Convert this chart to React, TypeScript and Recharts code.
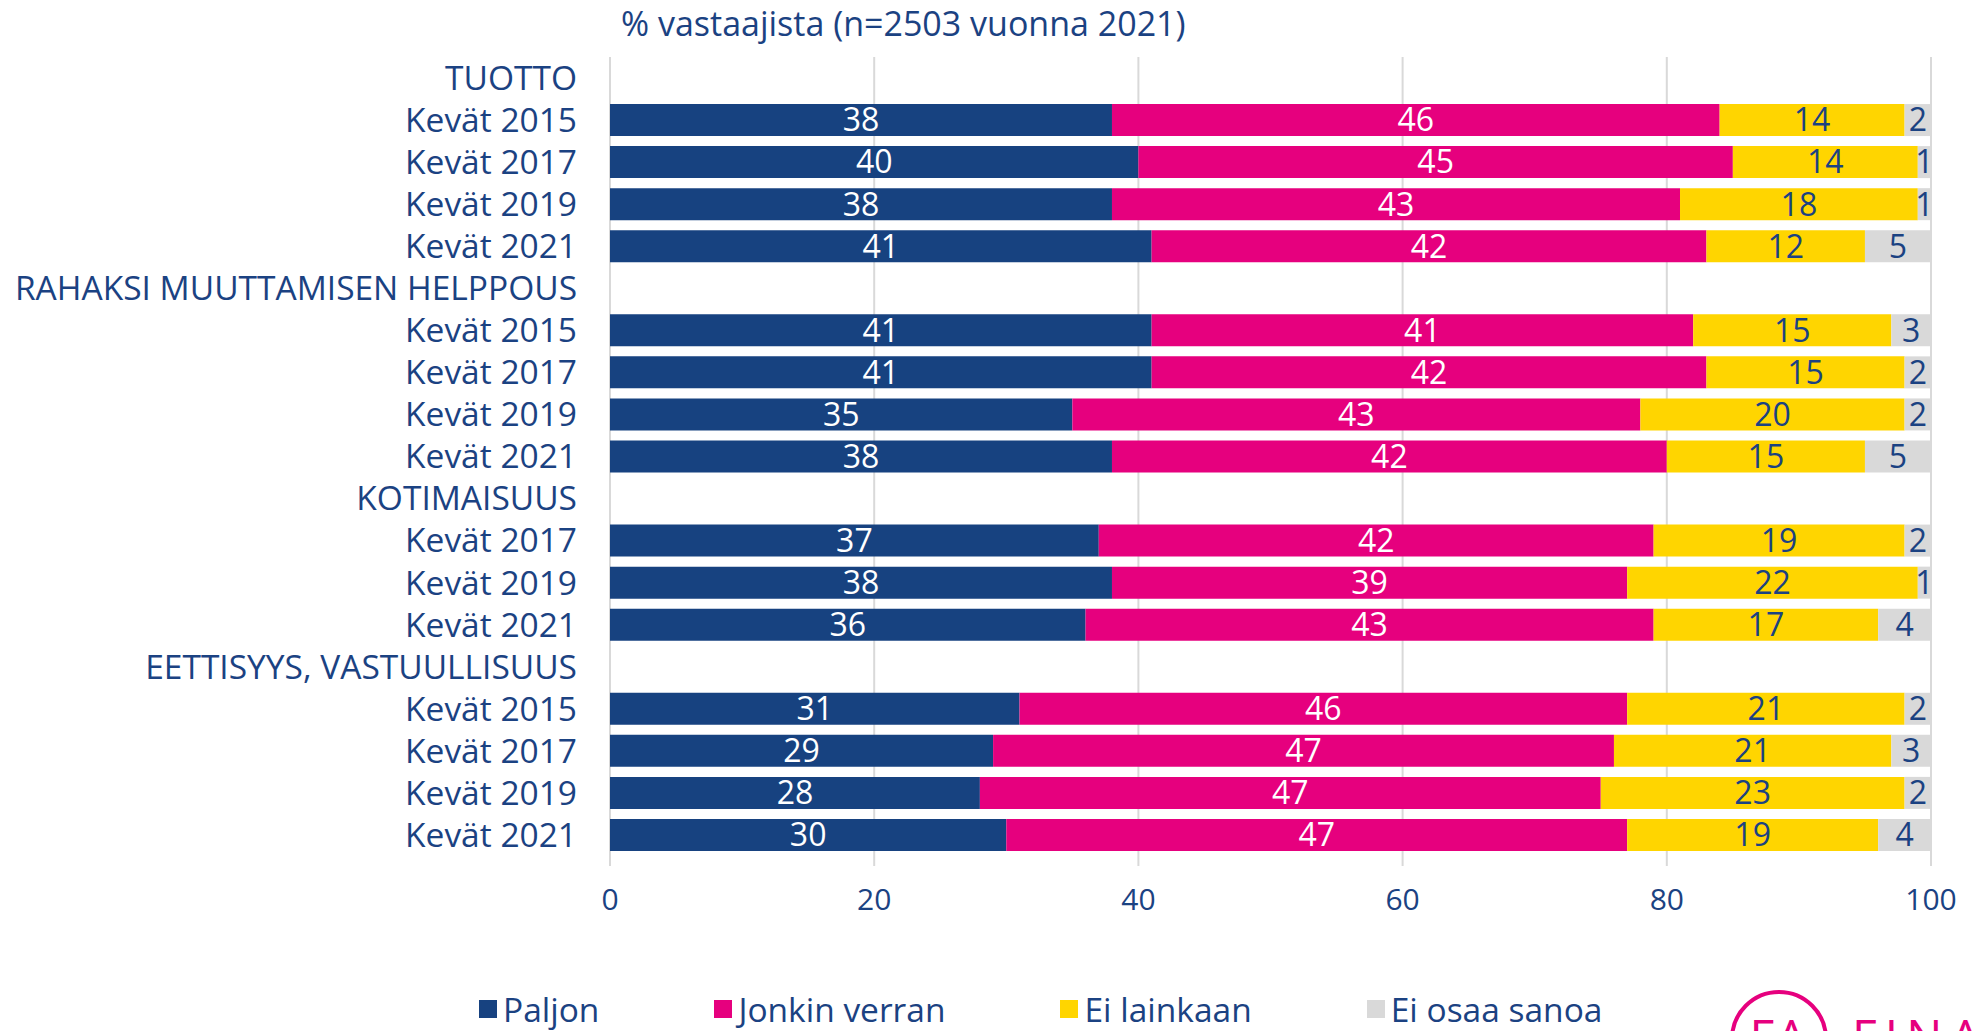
import {BarChart, Bar, XAxis, YAxis, CartesianGrid, LabelList} from 'recharts';

const rowLabels = [
    'TUOTTO', 'Kevät 2015', 'Kevät 2017', 'Kevät 2019', 'Kevät 2021',
    'RAHAKSI MUUTTAMISEN HELPPOUS', 'Kevät 2015', 'Kevät 2017', 'Kevät 2019', 'Kevät 2021',
    'KOTIMAISUUS', 'Kevät 2017', 'Kevät 2019', 'Kevät 2021',
    'EETTISYYS, VASTUULLISUUS', 'Kevät 2015', 'Kevät 2017', 'Kevät 2019', 'Kevät 2021'
];

// null = otsikkorivi (ei palkkia)
const paljon = [null, 38, 40, 38, 41, null, 41, 41, 35, 38, null, 37, 38, 36, null, 31, 29, 28, 30];
const jonkinVerran = [null, 46, 45, 43, 42, null, 41, 42, 43, 42, null, 42, 39, 43, null, 46, 47, 47, 47];
const eiLainkaan = [null, 14, 14, 18, 12, null, 15, 15, 20, 15, null, 19, 22, 17, null, 21, 21, 23, 19];
const eiOsaa = [null, 2, 1, 1, 5, null, 3, 2, 2, 5, null, 2, 1, 4, null, 2, 3, 2, 4];

const xTicks = [0, 20, 40, 60, 80, 100];

const series = [
    {key: 'paljon', name: 'Paljon', color: '#174280', labelColor: '#ffffff'},
    {key: 'jonkin', name: 'Jonkin verran', color: '#E6007E', labelColor: '#ffffff'},
    {key: 'ei', name: 'Ei lainkaan', color: '#FFD500', labelColor: '#1B4282'},
    {key: 'eos', name: 'Ei osaa sanoa', color: '#D9D9D9', labelColor: '#1B4282'}
];

const data = rowLabels.map((label, i) => ({
    id: i,
    label,
    paljon: paljon[i],
    jonkin: jonkinVerran[i],
    ei: eiLainkaan[i],
    eos: eiOsaa[i]
}));

const FONT = '"Open Sans", sans-serif';
const TEXT = '#1B4282';

const App = () => {
    return (
        <div style={{position: 'relative', width: 1972, height: 1031, overflow: 'hidden', background: '#fff', fontFamily: FONT}}>
            <style>{'body{margin:0}'}</style>
            <div style={{position: 'absolute', left: 621, top: 3, fontSize: 34, color: TEXT, lineHeight: '40px'}}>
                % vastaajista (n=2503 vuonna 2021)
            </div>
            <BarChart
                width={1972}
                height={1031}
                data={data}
                layout="vertical"
                margin={{top: 57, right: 41, left: 0, bottom: 145}}
                barSize={32}
            >
                <CartesianGrid horizontal={false} stroke="#D9D9D9" strokeWidth={2}/>
                <XAxis
                    type="number"
                    domain={[0, 100]}
                    ticks={xTicks}
                    axisLine={false}
                    tickLine={{stroke: '#D9D9D9', strokeWidth: 2}}
                    tickSize={10}
                    tickMargin={23}
                    height={30}
                    tick={{fill: TEXT, fontSize: 30, fontFamily: FONT}}
                />
                <YAxis
                    type="category"
                    dataKey="id"
                    width={610}
                    axisLine={false}
                    tickLine={false}
                    tickSize={0}
                    tickMargin={33}
                    interval={0}
                    tickFormatter={(v: number) => rowLabels[v]}
                    tick={{fill: TEXT, fontSize: 33.5, fontFamily: FONT}}
                />
                {series.map(s => (
                    <Bar key={s.key} dataKey={s.key} name={s.name} stackId="a" fill={s.color} isAnimationActive={false}>
                        <LabelList
                            dataKey={s.key}
                            position="center"
                            fill={s.labelColor}
                            style={{fontSize: 32, fontFamily: FONT}}
                        />
                    </Bar>
                ))}
            </BarChart>
            <div style={{position: 'absolute', left: 479, top: 989, display: 'flex', gap: 115, fontSize: 33.5, color: TEXT, lineHeight: '40px'}}>
                {series.map(s => (
                    <div key={s.key} style={{display: 'flex', alignItems: 'center'}}>
                        <span style={{display: 'inline-block', width: 18, height: 18, background: s.color, marginRight: 6}}/>
                        <span>{s.name}</span>
                    </div>
                ))}
            </div>
            <svg style={{position: 'absolute', left: 1700, top: 960}} width={272} height={71}>
                <circle cx={79} cy={79} r={47} fill="none" stroke="#E6007E" strokeWidth={4}/>
                <text x={79} y={94} textAnchor="middle" fill="#E6007E" fontSize={48} fontFamily={FONT} letterSpacing={2}>FA</text>
                <text x={152} y={94} fill="#E6007E" fontSize={48} fontFamily={FONT} letterSpacing={8}>FINANSSIALA</text>
            </svg>
        </div>
    );
};

export default App;
